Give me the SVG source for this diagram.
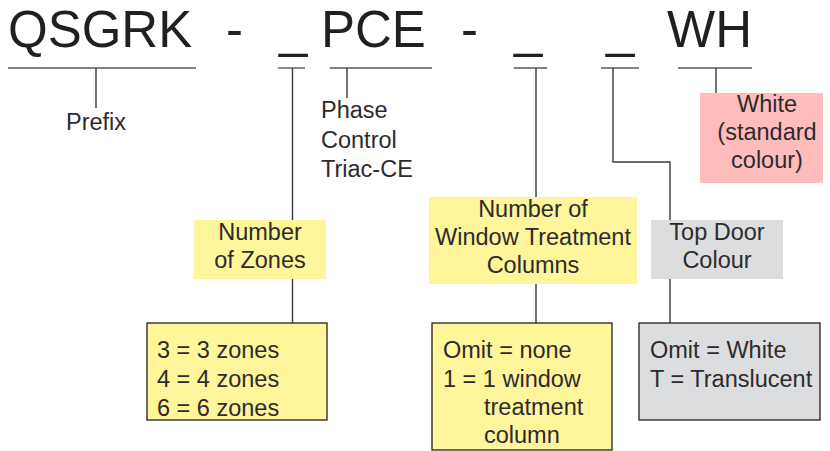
<svg xmlns="http://www.w3.org/2000/svg" width="830" height="451" viewBox="0 0 830 451">
<style>
.t{font-family:"Liberation Sans",Arial,sans-serif;fill:#231f20}
.big{font-size:51px}
.s{font-size:23.5px;fill:#2e2b2c}
.m{text-anchor:middle}
.ul{stroke:#58595b;stroke-width:1.4;fill:none}
.ln{stroke:#3a3a3c;stroke-width:1.4;fill:none}
.yl{fill:#fff59b}
.pk{fill:#ffbcbc}
.gr{fill:#dcdddf}
.bd{stroke:#231f20;stroke-width:1.3}
</style>
<rect width="830" height="451" fill="#fff"/>
<g id="code">
<text class="t big" x="8" y="47">QSGRK</text>
<text class="t big" x="226" y="47">-</text>
<text class="t big" x="279" y="47">_</text>
<text class="t big" x="321" y="47">PCE</text>
<text class="t big" x="461" y="47">-</text>
<text class="t big" x="514" y="47">_</text>
<text class="t big" x="606" y="47">_</text>
<text class="t big" x="667" y="47">WH</text>
</g>
<g id="connectors">
<line class="ul" x1="8" y1="68" x2="196" y2="68"/>
<line class="ul" x1="278" y1="68" x2="305" y2="68"/>
<line class="ul" x1="330" y1="68" x2="432" y2="68"/>
<line class="ul" x1="514" y1="68" x2="547" y2="68"/>
<line class="ul" x1="601" y1="68" x2="639" y2="68"/>
<line class="ul" x1="678" y1="68" x2="752" y2="68"/>
<line class="ln" x1="96" y1="68" x2="96" y2="108"/>
<line class="ln" x1="347" y1="68" x2="347" y2="98"/>
<line class="ln" x1="292.5" y1="68" x2="292.5" y2="220"/>
<line class="ln" x1="292.5" y1="279" x2="292.5" y2="323"/>
<line class="ln" x1="536" y1="68" x2="536" y2="197"/>
<line class="ln" x1="536" y1="284" x2="536" y2="323"/>
<polyline class="ln" points="613,68 613,162 670,162 670,220"/>
<line class="ln" x1="670" y1="279" x2="670" y2="323"/>
<line class="ln" x1="716" y1="68" x2="716" y2="93"/>
</g>
<g id="prefix">
<text class="t s m" x="96" y="130">Prefix</text>
</g>
<g id="phase">
<text class="t s" x="321" y="118">Phase</text>
<text class="t s" x="321" y="148">Control</text>
<text class="t s" x="321" y="177">Triac-CE</text>
</g>
<g id="zones">
<rect class="yl" x="194" y="220" width="132" height="59"/>
<text class="t s m" x="260" y="240">Number</text>
<text class="t s m" x="260" y="268">of Zones</text>
</g>
<g id="zones-options">
<rect class="yl bd" x="147" y="323" width="180" height="97"/>
<text class="t s" x="157" y="358">3 = 3 zones</text>
<text class="t s" x="157" y="387">4 = 4 zones</text>
<text class="t s" x="157" y="416">6 = 6 zones</text>
</g>
<g id="window">
<rect class="yl" x="429" y="197" width="208" height="87"/>
<text class="t s m" x="533" y="217">Number of</text>
<text class="t s m" x="533" y="245">Window Treatment</text>
<text class="t s m" x="533" y="273">Columns</text>
</g>
<g id="window-options">
<rect class="yl bd" x="432" y="323" width="180" height="127"/>
<text class="t s" x="443" y="358">Omit = none</text>
<text class="t s" x="443" y="387">1 = 1 window</text>
<text class="t s" x="484" y="415">treatment</text>
<text class="t s" x="484" y="443">column</text>
</g>
<g id="topdoor">
<rect class="gr" x="651" y="220" width="132" height="59"/>
<text class="t s m" x="717" y="240">Top Door</text>
<text class="t s m" x="717" y="268">Colour</text>
</g>
<g id="topdoor-options">
<rect class="gr bd" x="639" y="323" width="181" height="97"/>
<text class="t s" x="650" y="358">Omit = White</text>
<text class="t s" x="650" y="387">T = Translucent</text>
</g>
<g id="white">
<rect class="pk" x="700" y="93" width="123" height="90"/>
<text class="t s m" x="767" y="112">White</text>
<text class="t s m" x="767" y="140">(standard</text>
<text class="t s m" x="767" y="168">colour)</text>
</g>
</svg>
